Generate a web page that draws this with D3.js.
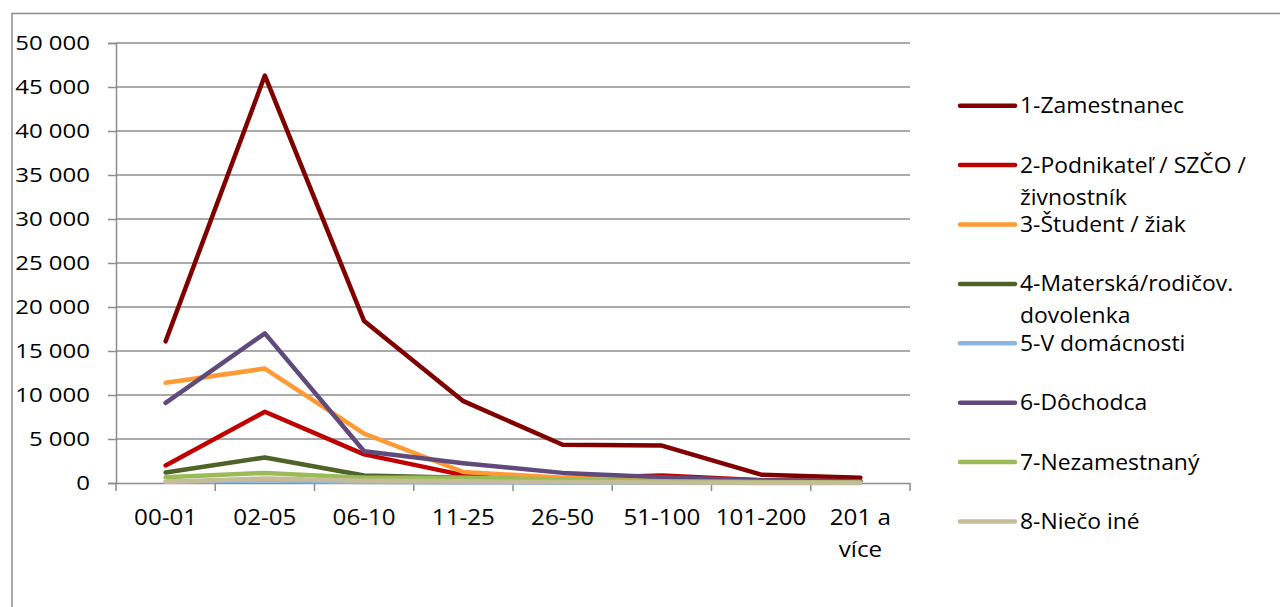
<!DOCTYPE html>
<html><head><meta charset="utf-8">
<script src="https://cdn.jsdelivr.net/npm/d3@7"></script>
<style>body{margin:0;background:#fff}svg{display:block}text{font-family:"Open Sans",sans-serif;fill:#000}</style>
</head><body><svg id="c" width="1280" height="607"></svg>
<script>
const categories = ["00-01","02-05","06-10","11-25","26-50","51-100","101-200","201 a více"];
const seriesNames = ["1-Zamestnanec","2-Podnikateľ / SZČO / živnostník","3-Študent / žiak","4-Materská/rodičov. dovolenka","5-V domácnosti","6-Dôchodca","7-Nezamestnaný","8-Niečo iné"];
const zamestnanec = [16100,46300,18400,9300,4350,4250,950,600];
const podnikatel = [2000,8100,3250,900,550,850,300,200];
const student = [11400,13000,5600,1250,600,300,100,50];
const materska = [1200,2900,850,600,300,150,50,20];
const domacnost = [150,300,120,60,40,20,10,5];
const dochodca = [9100,17000,3600,2250,1150,650,300,200];
const nezamestnany = [650,1150,600,600,400,200,100,50];
const nieco = [150,500,250,200,100,60,30,20];
const seriesValues = [zamestnanec,podnikatel,student,materska,domacnost,dochodca,nezamestnany,nieco];
const colors = ["#800000","#C00000","#FF9A35","#4F6228","#8DB4E2","#604A7B","#9BBB59","#C4BD97"];
const yTicks = [0,5000,10000,15000,20000,25000,30000,35000,40000,45000,50000];
const legendLines = [["1-Zamestnanec"],["2-Podnikateľ / SZČO /","živnostník"],["3-Študent / žiak"],["4-Materská/rodičov.","dovolenka"],["5-V domácnosti"],["6-Dôchodca"],["7-Nezamestnaný"],["8-Niečo iné"]];

const svg = d3.select("#c");
function stretch(sel, f){
  sel.each(function(){
    const w = this.getComputedTextLength();
    d3.select(this).attr("textLength", w*f).attr("lengthAdjust","spacingAndGlyphs");
  });
}
svg.append("rect").attr("x",12).attr("y",13.5).attr("width",1300).attr("height",700)
  .attr("fill","none").attr("stroke","#8c8c8c").attr("stroke-width",1.5);

const L=116, R=910, T=43, B=483;
const x = d3.scaleBand().domain(categories).range([L,R]);
const y = d3.scaleLinear().domain([0,50000]).range([B,T]);
const fmt = v => d3.format(",")(v).replace(/,/g," ");
const grid="#8c8c8c";

svg.append("g").selectAll("line").data(yTicks.filter(d=>d>0)).join("line")
  .attr("x1",L).attr("x2",R).attr("y1",d=>y(d)).attr("y2",d=>y(d))
  .attr("stroke",grid).attr("stroke-width",1.5);

const ya = svg.append("g").attr("transform",`translate(${L},0)`)
  .call(d3.axisLeft(y).tickValues(yTicks).tickFormat(fmt).tickSize(8).tickPadding(18));
ya.select(".domain").attr("stroke",grid).attr("stroke-width",1.5);
ya.selectAll(".tick line").attr("stroke",grid).attr("stroke-width",1.5);
const yt = ya.selectAll(".tick text").attr("font-size",20).attr("font-family","Open Sans").attr("fill","#000").attr("dy","0.32em");
stretch(yt, 1.2);

const xa = svg.append("g").attr("transform",`translate(0,${B})`)
  .call(d3.axisBottom(x).tickSize(0).tickFormat(""));
xa.select(".domain").attr("stroke",grid).attr("stroke-width",1.5);
const bounds = categories.map(c=>x(c)).concat([R]);
xa.selectAll(".bt").data(bounds).join("line").attr("class","bt")
  .attr("x1",d=>d).attr("x2",d=>d).attr("y1",0).attr("y2",8)
  .attr("stroke",grid).attr("stroke-width",1.5);
categories.forEach(c=>{
  const cx = x(c)+x.bandwidth()/2;
  const parts = c==="201 a více" ? ["201 a","více"] : [c];
  parts.forEach((p,i)=>{
    const t = svg.append("text").attr("x",cx).attr("y",B+42+i*32).attr("text-anchor","middle")
      .attr("font-size",21).text(p);
    stretch(t, 1.15);
  });
});

const line = d3.line().x((d,i)=>x(categories[i])+x.bandwidth()/2).y(d=>y(d));
svg.append("g").selectAll("path").data(seriesValues).join("path")
  .attr("d",line).attr("fill","none").attr("stroke",(d,i)=>colors[i])
  .attr("stroke-width",4.5).attr("stroke-linejoin","round").attr("stroke-linecap","round");

const lg = svg.append("g");
seriesNames.forEach((n,i)=>{
  const cy = 105.7 + i*59.4;
  lg.append("line").attr("x1",960).attr("x2",1015).attr("y1",cy).attr("y2",cy)
    .attr("stroke",colors[i]).attr("stroke-width",4.5).attr("stroke-linecap","round");
  legendLines[i].forEach((t,j)=>{
    const tx = lg.append("text").attr("x",1020).attr("y",cy+7.5+j*32).attr("font-size",21).text(t);
    stretch(tx, 1.09);
  });
});
</script></body></html>
